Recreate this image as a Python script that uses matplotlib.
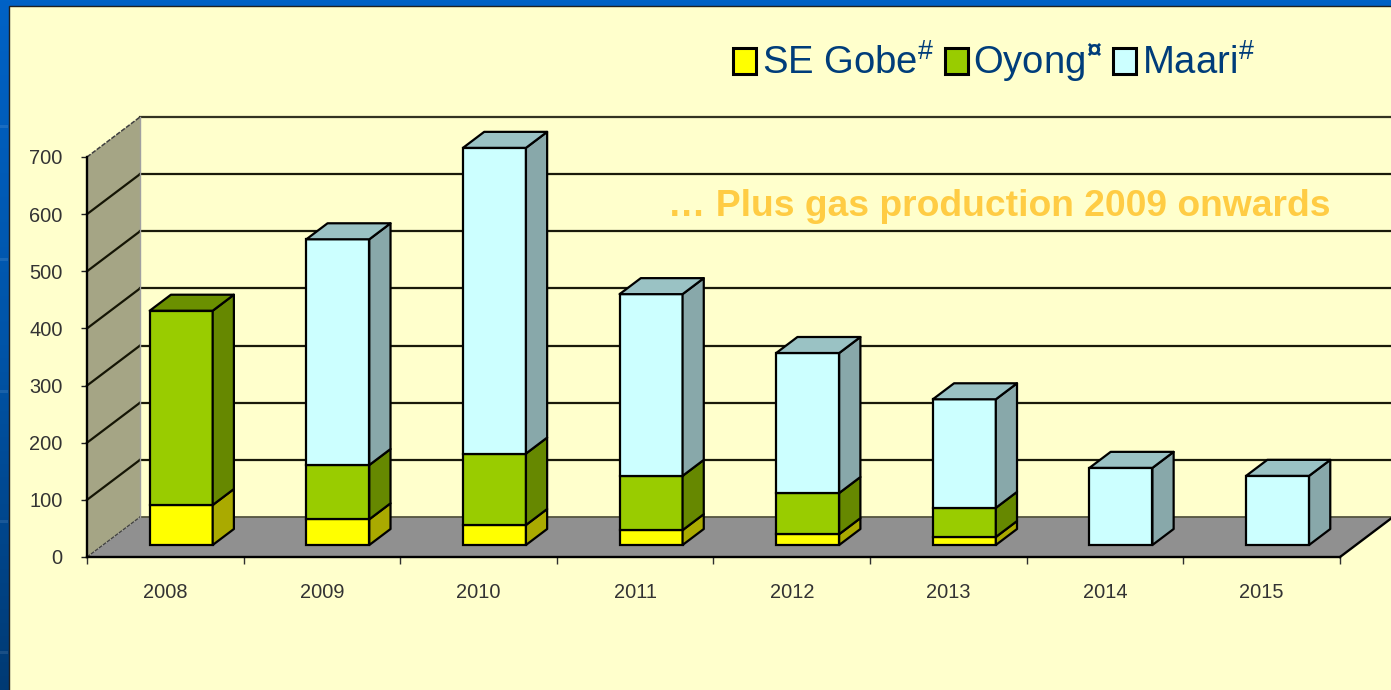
import numpy as np
import matplotlib
matplotlib.use("Agg")
import matplotlib.pyplot as plt
from matplotlib.patches import Polygon, Patch, Rectangle

years = ["2008", "2009", "2010", "2011", "2012", "2013", "2014", "2015"]
se_gobe = [70, 45, 35, 26, 19, 14, 0, 0]
oyong = [340, 95, 125, 95, 72, 51, 0, 0]
maari = [0, 395, 535, 318, 245, 190, 135, 121]
y_ticks = [0, 100, 200, 300, 400, 500, 600, 700]

series = [
    ("SE Gobe$^{\\#}$", se_gobe, "#FFFF00", "#AAAA00", "#AAAA00"),
    ("Oyong$^{\\mathbf{¤}}$", oyong, "#99CC00", "#668800", "#6B9000"),
    ("Maari$^{\\#}$", maari, "#CCFFFF", "#88A8AA", "#9AC2C4"),
]

W, H = 1391, 690
plt.rcParams["font.family"] = ["Liberation Sans", "DejaVu Sans"]
plt.rcParams["mathtext.fontset"] = "custom"
plt.rcParams["mathtext.rm"] = "Liberation Sans"
plt.rcParams["mathtext.bf"] = "Liberation Sans:bold"
plt.rcParams["mathtext.default"] = "regular"
fig = plt.figure(figsize=(W / 100, H / 100), dpi=100)

# slide background
bg = fig.add_axes([0, 0, 1, 1], zorder=0)
bg.set_xlim(0, W)
bg.set_ylim(H, 0)
bg.axis("off")
grad = np.linspace(0, 1, 256).reshape(-1, 1)
cmap = matplotlib.colors.LinearSegmentedColormap.from_list("b", ["#0062C6", "#0054A8", "#003A74"])
bg.imshow(grad, cmap=cmap, extent=[0, W, H, 0], aspect="auto")
for yy in (125, 258, 390, 520, 651):
    bg.add_patch(Rectangle((0, yy), 8, 3, fc="white", alpha=0.1, ec="none"))
bg.add_patch(Rectangle((8.5, 5.5), W, H, fc="#FFFFCC", ec="#202020", lw=1.0))

# chart: data space 0-8 categories, 0-700 values on the front plane
ax = fig.add_axes([87 / W, (H - 557) / H, (1340 - 87) / W, 400 / H], zorder=1)
ax.set_xlim(0, 8)
ax.set_ylim(0, 700)
ax.patch.set_alpha(0)
DX, DY = 53 / (1253 / 8), 70
EDGE = dict(ec="black", lw=1.6, joinstyle="round", clip_on=False)

ax.add_patch(Polygon([(0, 0), (0, 700), (DX, 700 + DY), (DX, DY)], fc="#A5A585", ec="none", clip_on=False, zorder=1))
ax.add_patch(Polygon([(0, 0), (8, 0), (8 + DX, DY), (DX, DY)], fc="#909090", ec="none", clip_on=False, zorder=1))
for v in y_ticks:
    if v == 0:
        continue
    ax.plot([DX, 8 + DX], [v + DY, v + DY], color="#1A1A0A" if v < 700 else "#333322", lw=1.6, clip_on=False, zorder=2)
    if v < 700:
        ax.plot([0, DX], [v, v + DY], color="#151505", lw=1.6, clip_on=False, zorder=2)
ax.plot([DX, 8 + DX], [DY, DY], color="#555540", lw=1.3, clip_on=False, zorder=2)
ax.plot([0, DX], [700, 700 + DY], color="#404040", lw=1.1, ls=(0, (3, 1)), clip_on=False, zorder=2)
ax.plot([0, DX], [0, DY], color="#404040", lw=0.9, ls=(0, (3, 1)), clip_on=False, zorder=2)
ax.plot([DX, DX], [DY, 700 + DY], color="#A0A0A0", lw=1.0, clip_on=False, zorder=2)
ax.plot([8, 8 + DX], [0, DY], color="black", lw=1.7, clip_on=False, zorder=2)

# bars, set back from the front plane
FRONT, DEPTH, BW = 0.3, 0.4, 0.402
fx, fy = FRONT * DX, FRONT * DY
bx, by = DEPTH * DX, DEPTH * DY
x = np.arange(len(years)) + 0.5 + fx
bottoms = np.zeros(len(years))
for name, vals, front, side, top in series:
    vals = np.array(vals, float)
    shown = vals > 0
    ax.bar(x[shown], vals[shown], BW, bottom=bottoms[shown] + fy, color=front, zorder=4,
           edgecolor="black", linewidth=1.6, clip_on=False, label=name)
    for xi, b, v in zip(x[shown], bottoms[shown] + fy, vals[shown]):
        r = xi + BW / 2
        ax.add_patch(Polygon([(r, b), (r + bx, b + by), (r + bx, b + v + by), (r, b + v)], fc=side, zorder=4, **EDGE))
    bottoms += vals
# tops of the stacks
for i, xi in enumerate(x):
    tc = [s[4] for s in series if s[1][i] > 0][-1]
    t = bottoms[i] + fy
    l, r = xi - BW / 2, xi + BW / 2
    ax.add_patch(Polygon([(l, t), (l + bx, t + by), (r + bx, t + by), (r, t)], fc=tc, zorder=5, **EDGE))

# axes furniture
for s in ("top", "right"):
    ax.spines[s].set_visible(False)
for s in ("left", "bottom"):
    ax.spines[s].set_linewidth(1.7)
    ax.spines[s].set_zorder(3)
ax.set_yticks(y_ticks)
ax.set_xticks(np.arange(0, 9))
ax.set_xticklabels([])
ax.set_xticks(np.arange(len(years)) + 0.5, years, minor=True)
ax.tick_params(axis="y", length=4.5, width=1.0, color="#202020", labelsize=14.4, labelcolor="#333333", pad=13)
ax.tick_params(axis="x", which="major", length=5, width=1.0, color="#303030")
ax.tick_params(axis="x", which="minor", length=0, labelsize=14.4, labelcolor="#333333", pad=19)

fig.text(668 / W, 1 - 206 / H, "… Plus gas production 2009 onwards", color="#FFCC44", fontsize=26.8,
         fontweight="bold", ha="left", va="center")

handles = [Patch(fc=s[2], ec="black", lw=2.2, label=s[0]) for s in series]
leg = fig.legend(handles=handles, loc="center left", bbox_to_anchor=(733 / W, 1 - 63 / H), ncol=3,
                 frameon=False, fontsize=27.5, labelcolor="#003D7A", handlelength=0.6, handleheight=0.65,
                 handletextpad=0.15, columnspacing=0.28, borderpad=0, borderaxespad=0)

fig.savefig("out.png", dpi=100)
